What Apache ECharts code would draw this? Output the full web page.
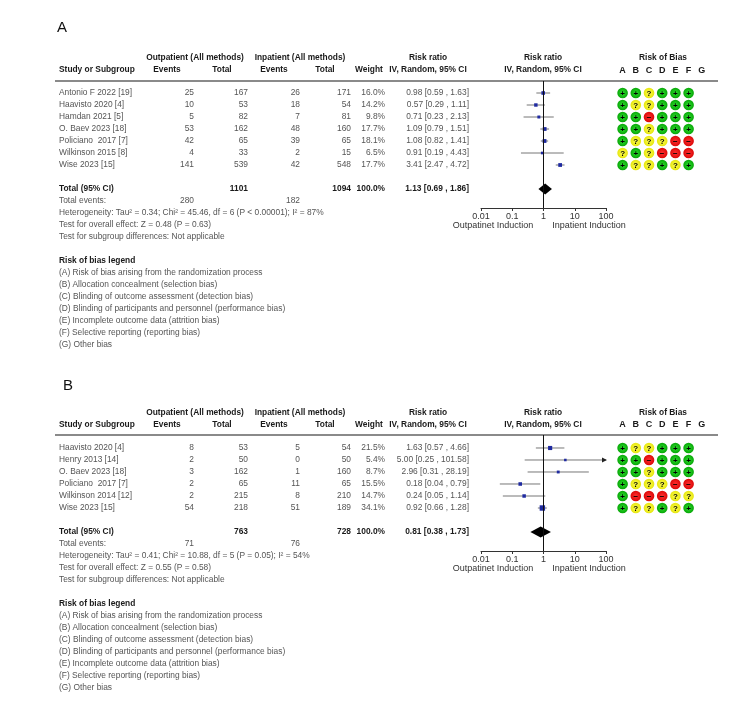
<!DOCTYPE html>
<html><head><meta charset="utf-8">
<script src="https://cdn.jsdelivr.net/npm/echarts@6/dist/echarts.min.js"></script>
<style>html,body{margin:0;padding:0;background:#fff}#c{width:750px;height:723px}</style>
</head><body><div id="c"></div><script>
// ---------- Panel A data ----------
const studiesA = ['Antonio F 2022 [19]','Haavisto 2020 [4]','Hamdan 2021 [5]','O. Baev 2023 [18]','Policiano  2017 [7]','Wilkinson 2015 [8]','Wise 2023 [15]'];
const outEventsA = [25,10,5,53,42,4,141];
const outTotalA  = [167,53,82,162,65,33,539];
const inEventsA  = [26,18,7,48,39,2,42];
const inTotalA   = [171,54,81,160,65,15,548];
const weightA    = [16.0,14.2,9.8,17.7,18.1,6.5,17.7];
const rrA = [0.98,0.57,0.71,1.09,1.08,0.91,3.41];
const loA = [0.59,0.29,0.23,0.79,0.82,0.19,2.47];
const hiA = [1.63,1.11,2.13,1.51,1.41,4.43,4.72];
const biasA = [
  ['+','+','?','+','+','+'],
  ['+','?','?','+','+','+'],
  ['+','+','-','+','+','+'],
  ['+','+','?','+','+','+'],
  ['+','?','?','?','-','-'],
  ['?','+','?','-','-','-'],
  ['+','?','?','+','?','+']
];
const totalsA = {outTotal:1101, inTotal:1094, outEvents:280, inEvents:182, rr:1.13, lo:0.69, hi:1.86};
const statsA = ['Heterogeneity: Tau\u00b2 = 0.34; Chi\u00b2 = 45.46, df = 6 (P < 0.00001); I\u00b2 = 87%',
  'Test for overall effect: Z = 0.48 (P = 0.63)',
  'Test for subgroup differences: Not applicable'];

// ---------- Panel B data ----------
const studiesB = ['Haavisto 2020 [4]','Henry 2013 [14]','O. Baev 2023 [18]','Policiano  2017 [7]','Wilkinson 2014 [12]','Wise 2023 [15]'];
const outEventsB = [8,2,3,2,2,54];
const outTotalB  = [53,50,162,65,215,218];
const inEventsB  = [5,0,1,11,8,51];
const inTotalB   = [54,50,160,65,210,189];
const weightB    = [21.5,5.4,8.7,15.5,14.7,34.1];
const rrB = [1.63,5.00,2.96,0.18,0.24,0.92];
const loB = [0.57,0.25,0.31,0.04,0.05,0.66];
const hiB = [4.66,101.58,28.19,0.79,1.14,1.28];
const biasB = [
  ['+','?','?','+','+','+'],
  ['+','+','-','+','+','+'],
  ['+','+','?','+','+','+'],
  ['+','?','?','?','-','-'],
  ['+','-','-','-','?','?'],
  ['+','?','?','+','?','+']
];
const totalsB = {outTotal:763, inTotal:728, outEvents:71, inEvents:76, rr:0.81, lo:0.38, hi:1.73};
const statsB = ['Heterogeneity: Tau\u00b2 = 0.41; Chi\u00b2 = 10.88, df = 5 (P = 0.05); I\u00b2 = 54%',
  'Test for overall effect: Z = 0.55 (P = 0.58)',
  'Test for subgroup differences: Not applicable'];

// ---------- shared labels ----------
const robColumns = ['A','B','C','D','E','F','G'];
const axisTicks = [0.01,0.1,1,10,100];
const legendItems = ['(A) Risk of bias arising from the randomization process',
  '(B) Allocation concealment (selection bias)',
  '(C) Blinding of outcome assessment (detection bias)',
  '(D) Blinding of participants and personnel (performance bias)',
  '(E) Incomplete outcome data (attrition bias)',
  '(F) Selective reporting (reporting bias)',
  '(G) Other bias'];

const FONT = '"Liberation Sans", Arial, Helvetica, sans-serif';
const FS = 8.4;
const DATA_COLOR = '#555';
const HEAD_COLOR = '#1a1a1a';

const panels = [
  {label:'A', studies:studiesA, oe:outEventsA, ot:outTotalA, ie:inEventsA, it:inTotalA, w:weightA, rr:rrA, lo:loA, hi:hiA, bias:biasA, tot:totalsA, stats:statsA,
   top:81, height:127, ymin:-1, ymax:9.583, labelLeft:52, labelTop:15},
  {label:'B', studies:studiesB, oe:outEventsB, ot:outTotalB, ie:inEventsB, it:inTotalB, w:weightB, rr:rrB, lo:loB, hi:hiB, bias:biasB, tot:totalsB, stats:statsB,
   top:435, height:116, ymin:-1.083, ymax:8.583, labelLeft:58, labelTop:373}
];

function fmtRR(r,l,h){ return r.toFixed(2)+' ['+l.toFixed(2)+' , '+h.toFixed(2)+']'; }

const codeIndex = {'+':0,'?':1,'-':2};
const codeText = ['+','?','\u2212'];
function robColor(k){
  const stops = k===0 ? ['#2ee02e','#009a00'] : k===1 ? ['#ffff50','#e0e000'] : ['#ff3030','#d40000'];
  return {type:'radial', x:0.5, y:0.5, r:0.6, colorStops:[{offset:0,color:stops[0]},{offset:1,color:stops[1]}]};
}

const grids=[], xAxes=[], yAxes=[], series=[], titles=[];

panels.forEach((P, pi) => {
  const gF = grids.length;
  grids.push({left:481, width:125, top:P.top, height:P.height});
  grids.push({left:616, width:92.4, top:P.top, height:P.height});
  const n = P.studies.length;
  xAxes.push({type:'log', logBase:10, gridIndex:gF, min:0.01, max:100, position:'bottom',
    axisLine:{onZero:false, lineStyle:{color:'#333', width:1}}, axisTick:{show:true, length:3, lineStyle:{color:'#333'}},
    splitLine:{show:false},
    axisLabel:{fontSize:FS+0.6, color:'#333', fontFamily:FONT, margin:4,
      formatter: v => { const t = axisTicks.find(a => Math.abs(Math.log10(a)-Math.log10(v))<1e-6); return t!==undefined ? String(t) : ''; }}});
  xAxes.push({type:'category', gridIndex:gF+1, data:robColumns, position:'top',
    axisLine:{show:false, onZero:false}, axisTick:{show:false}, splitLine:{show:false},
    axisLabel:{fontSize:FS+0.6, fontWeight:'bold', color:HEAD_COLOR, fontFamily:FONT, margin:6}});
  yAxes.push({type:'value', gridIndex:gF, inverse:true, min:P.ymin, max:P.ymax, show:false});
  yAxes.push({type:'value', gridIndex:gF+1, inverse:true, min:P.ymin, max:P.ymax, show:false});

  titles.push({text:P.label, left:P.labelLeft, top:P.labelTop, textStyle:{fontSize:15, fontWeight:'normal', color:'#111', fontFamily:FONT}});

  // study CIs + squares
  series.push({type:'custom', xAxisIndex:gF, yAxisIndex:gF, silent:true, clip:false,
    data: P.studies.map((s,i)=>[i, P.rr[i], P.lo[i], P.hi[i], P.w[i]]),
    renderItem:(params, api)=>{
      const row=api.value(0), rr=api.value(1), lo=api.value(2), hi=api.value(3), w=api.value(4);
      const p1=api.coord([Math.max(lo,0.01),row]), p2=api.coord([Math.min(hi,100),row]), pc=api.coord([rr,row]);
      const s = 2 + w*0.1;
      const ch=[{type:'line', shape:{x1:p1[0],y1:p1[1],x2:p2[0],y2:p2[1]}, style:{stroke:'#777', lineWidth:1}},
        {type:'rect', shape:{x:pc[0]-s/2, y:pc[1]-s/2, width:s, height:s}, style:{fill:'#1f2aa0'}}];
      if (hi>100) ch.push({type:'polygon', shape:{points:[[p2[0]+1,p2[1]],[p2[0]-4,p2[1]-2.5],[p2[0]-4,p2[1]+2.5]]}, style:{fill:'#222'}});
      return {type:'group', children:ch};
    },
    markLine:{silent:true, symbol:['none','none'], label:{show:false}, lineStyle:{color:'#111', width:1, type:'solid'}, data:[{xAxis:1}]}
  });
  // pooled diamond
  series.push({type:'custom', xAxisIndex:gF, yAxisIndex:gF, silent:true, clip:false,
    data:[[n+1, P.tot.rr, P.tot.lo, P.tot.hi]],
    renderItem:(params, api)=>{
      const row=api.value(0);
      const a=api.coord([api.value(2),row]), c=api.coord([api.value(1),row]), b=api.coord([api.value(3),row]);
      return {type:'polygon', shape:{points:[[a[0],a[1]],[c[0],c[1]-5.5],[b[0],b[1]],[c[0],c[1]+5.5]]}, style:{fill:'#000'}};
    }});
  // risk of bias dots
  const robData=[];
  P.bias.forEach((r,i)=> r.forEach((code,j)=> robData.push([j,i,codeIndex[code]])));
  series.push({type:'custom', xAxisIndex:gF+1, yAxisIndex:gF+1, silent:true, clip:false, data:robData,
    renderItem:(params, api)=>{
      const p=api.coord([api.value(0), api.value(1)]), k=api.value(2);
      return {type:'group', children:[
        {type:'circle', shape:{cx:p[0], cy:p[1], r:5.3}, style:{fill:robColor(k)}},
        {type:'text', style:{x:p[0], y:p[1]+0.3, text:codeText[k], fill:'#000', font:'bold 8px '+FONT, align:'center', verticalAlign:'middle'}}
      ]};
    }});

  // table text
  series.push({type:'custom', xAxisIndex:gF, yAxisIndex:gF, silent:true, clip:false, z:1,
    data:[[1,0]],
    renderItem:(params, api)=>{
      const Y = r => api.coord([1,r])[1];
      const els=[];
      const T=(x,r,str,opt)=>{ opt=opt||{};
        els.push({type:'text', style:{x:x, y:(typeof r==='number'?Y(r):r.px), text:String(str), fill:opt.c||DATA_COLOR,
          font:(opt.b?'bold ':'')+(opt.fs||FS)+'px '+FONT, align:opt.a||'left', verticalAlign:'middle'}});
      };
      const h1=-2.95, h2=-1.95;
      const H={c:HEAD_COLOR, b:true};
      T(195,h1,'Outpatient (All methods)',{...H,a:'center'});
      T(300,h1,'Inpatient (All methods)',{...H,a:'center'});
      T(428,h1,'Risk ratio',{...H,a:'center'});
      T(543,h1,'Risk ratio',{...H,a:'center'});
      T(663,h1,'Risk of Bias',{...H,a:'center'});
      T(59,h2,'Study or Subgroup',H);
      T(167,h2,'Events',{...H,a:'center'});
      T(222,h2,'Total',{...H,a:'center'});
      T(274,h2,'Events',{...H,a:'center'});
      T(325,h2,'Total',{...H,a:'center'});
      T(369,h2,'Weight',{...H,a:'center'});
      T(428,h2,'IV, Random, 95% CI',{...H,a:'center'});
      T(543,h2,'IV, Random, 95% CI',{...H,a:'center'});
      // header rule
      const yl=Y(P.ymin);
      els.push({type:'line', shape:{x1:55,y1:yl,x2:718,y2:yl}, style:{stroke:'#8a8a8a', lineWidth:2}});
      P.studies.forEach((s,i)=>{
        T(59,i,s);
        T(194,i,P.oe[i],{a:'right'});
        T(248,i,P.ot[i],{a:'right'});
        T(300,i,P.ie[i],{a:'right'});
        T(351,i,P.it[i],{a:'right'});
        T(385,i,P.w[i].toFixed(1)+'%',{a:'right'});
        T(469,i,fmtRR(P.rr[i],P.lo[i],P.hi[i]),{a:'right'});
      });
      const t=n+1;
      T(59,t,'Total (95% CI)',H);
      T(248,t,P.tot.outTotal,{...H,a:'right'});
      T(351,t,P.tot.inTotal,{...H,a:'right'});
      T(385,t,'100.0%',{...H,a:'right'});
      T(469,t,fmtRR(P.tot.rr,P.tot.lo,P.tot.hi),{...H,a:'right'});
      T(59,n+2,'Total events:');
      T(194,n+2,P.tot.outEvents,{a:'right'});
      T(300,n+2,P.tot.inEvents,{a:'right'});
      P.stats.forEach((s,k)=>T(59,n+3+k,s));
      T(59,n+7,'Risk of bias legend',H);
      legendItems.forEach((s,k)=>T(59,n+8+k,s));
      const ya=Y(P.ymax);
      T(493,{px:ya+18},'Outpatinet Induction',{fs:FS+0.6,c:'#333',a:'center'});
      T(589,{px:ya+18},'Inpatient Induction',{fs:FS+0.6,c:'#333',a:'center'});
      return {type:'group', children:els};
    }});
});

const chart = echarts.init(document.getElementById('c'), null, {renderer:'canvas'});
chart.setOption({backgroundColor:'#fff', animation:false, title:titles, grid:grids, xAxis:xAxes, yAxis:yAxes, series:series});
</script></body></html>
